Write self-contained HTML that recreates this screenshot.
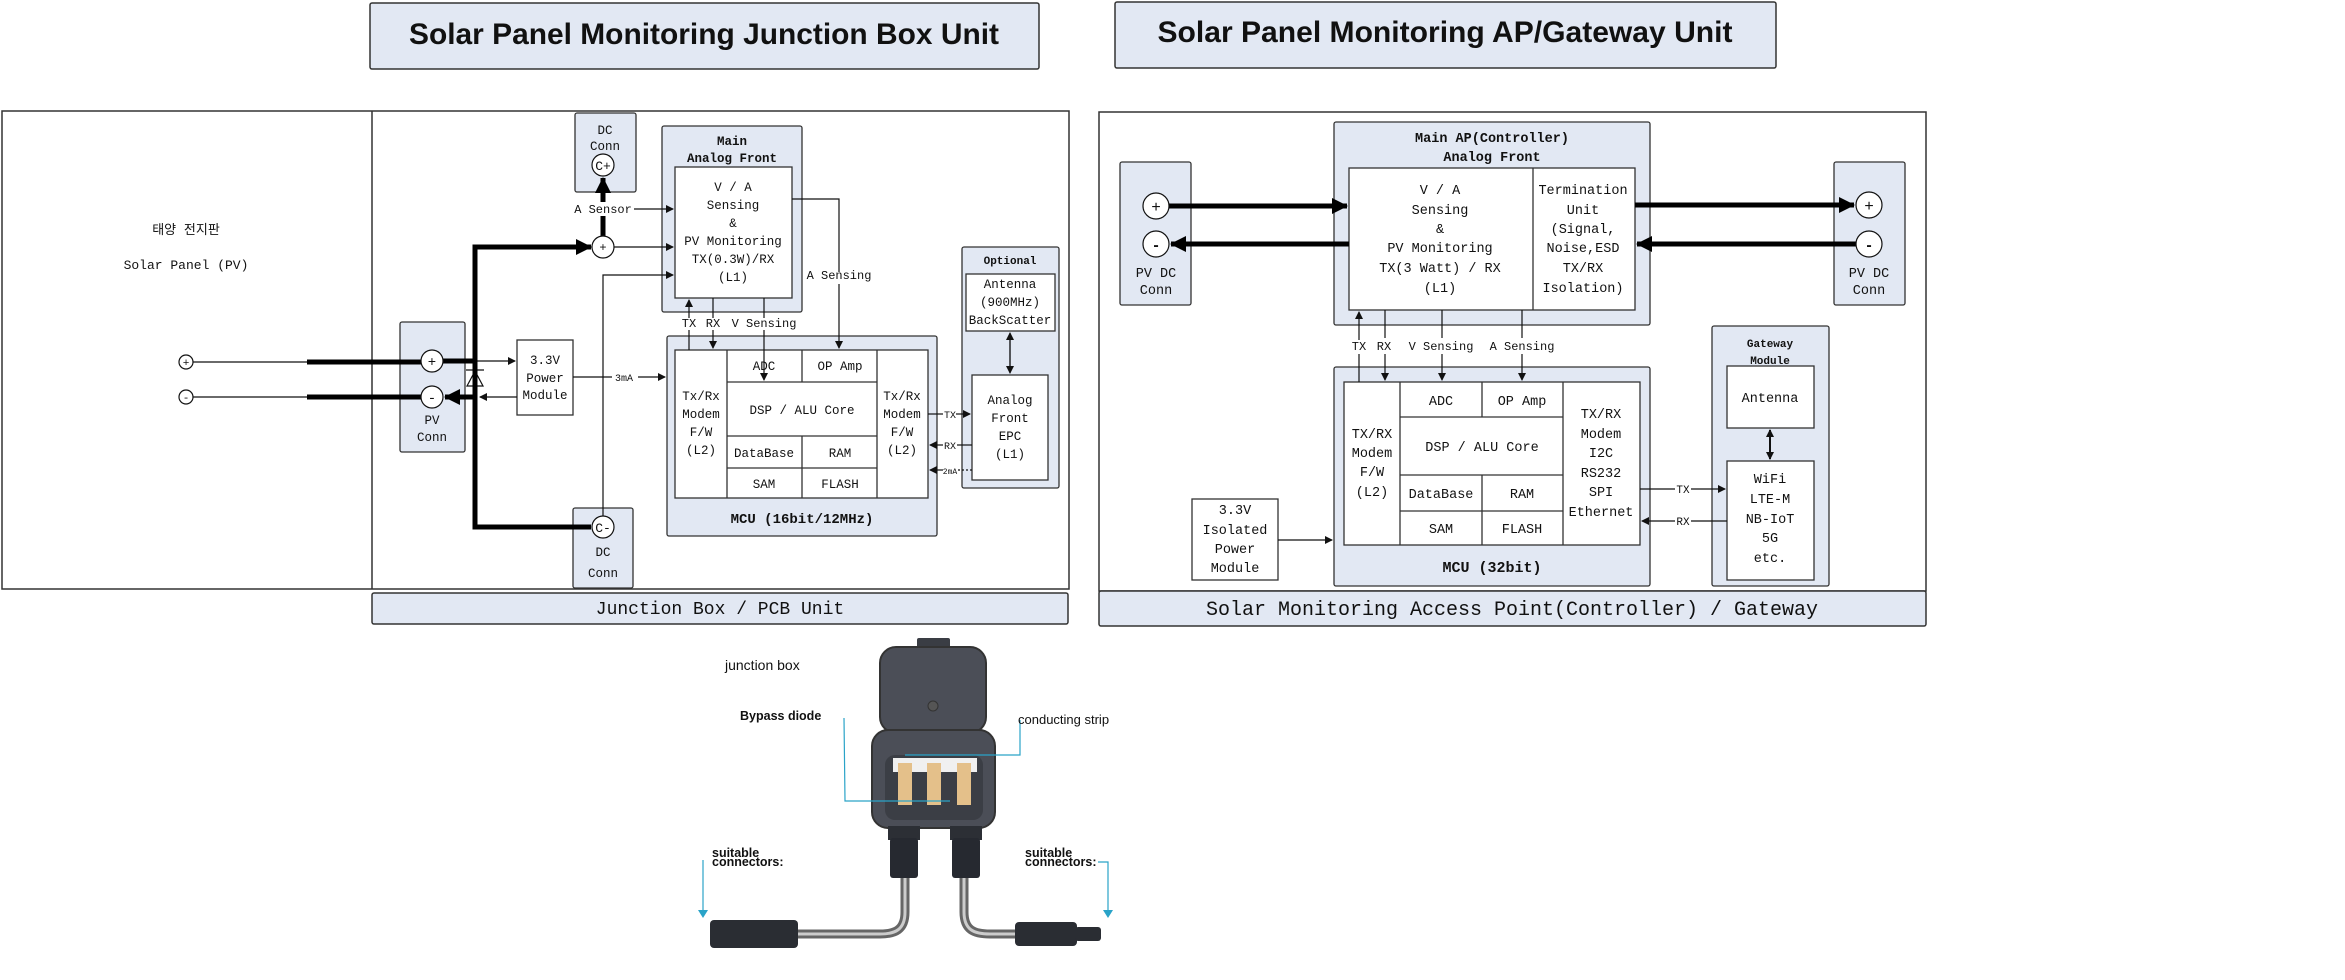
<!DOCTYPE html>
<html><head><meta charset="utf-8"><style>
html,body{margin:0;padding:0;background:#fff;}
svg{display:block;}
.m{font-family:"Liberation Mono","Noto Sans CJK KR",monospace;fill:#111;}
.s{font-family:"Liberation Sans","Noto Sans CJK KR",sans-serif;fill:#111;}
</style></head><body>
<svg width="2345" height="980" viewBox="0 0 2345 980" xmlns="http://www.w3.org/2000/svg">
<defs>
<marker id="a" markerWidth="8" markerHeight="8" refX="7" refY="4" orient="auto" markerUnits="userSpaceOnUse"><path d="M0,0 L8,4 L0,8 z" fill="#111"/></marker>
<marker id="A" markerWidth="16" markerHeight="16" refX="15" refY="8" orient="auto" markerUnits="userSpaceOnUse"><path d="M0,0 L16,8 L0,16 z" fill="#000"/></marker>
</defs>
<g stroke="#333" stroke-width="1.5">
<rect x="370" y="3" width="669" height="66" fill="#e2e8f3" rx="2"/>
<rect x="1115" y="2" width="661" height="66" fill="#e2e8f3" rx="2"/>
<rect x="2" y="111" width="1067" height="478" fill="#fff"/>
<line x1="372" y1="111" x2="372" y2="589"/>
<rect x="372" y="593" width="696" height="31" fill="#e2e8f3" rx="2"/>
<rect x="1099" y="112" width="827" height="479" fill="#fff"/>
<rect x="1099" y="591" width="827" height="35" fill="#e2e8f3" rx="2"/>
</g>
<text class="s" x="704" y="44" font-size="30" font-weight="bold" text-anchor="middle" textLength="590" lengthAdjust="spacingAndGlyphs">Solar Panel Monitoring Junction Box Unit</text>
<text class="s" x="1445" y="42" font-size="30" font-weight="bold" text-anchor="middle" textLength="575" lengthAdjust="spacingAndGlyphs">Solar Panel Monitoring AP/Gateway Unit</text>
<text class="m" x="720" y="614" font-size="18" text-anchor="middle">Junction Box / PCB Unit</text>
<text class="m" x="1512" y="615" font-size="20" text-anchor="middle">Solar Monitoring Access Point(Controller) / Gateway</text>

<text class="m" x="186" y="234" font-size="13" text-anchor="middle">태양 전지판</text>
<text class="m" x="186" y="269" font-size="13" text-anchor="middle">Solar Panel (PV)</text>
<g stroke="#333" stroke-width="1.3">
<rect x="575" y="113" width="61" height="79" fill="#e2e8f3" rx="2"/>
<rect x="662" y="126" width="140" height="186" fill="#e2e8f3" rx="2"/>
<rect x="675" y="167" width="117" height="131" fill="#fff"/>
<rect x="400" y="322" width="65" height="130" fill="#e2e8f3" rx="2"/>
<rect x="573" y="508" width="60" height="80" fill="#e2e8f3" rx="2"/>
<rect x="517" y="340" width="56" height="75" fill="#fff"/>
<rect x="667" y="336" width="270" height="200" fill="#e2e8f3" rx="2"/>
<rect x="675" y="350" width="253" height="148" fill="#fff"/>
<line x1="727" y1="350" x2="727" y2="498"/><line x1="877" y1="350" x2="877" y2="498"/>
<line x1="802" y1="350" x2="802" y2="382"/><line x1="802" y1="436" x2="802" y2="498"/>
<line x1="727" y1="382" x2="877" y2="382"/><line x1="727" y1="436" x2="877" y2="436"/><line x1="727" y1="468" x2="877" y2="468"/>
<rect x="962" y="247" width="97" height="241" fill="#e2e8f3" rx="2"/>
<rect x="966" y="274" width="89" height="57" fill="#fff"/>
<rect x="972" y="375" width="76" height="105" fill="#fff"/>
</g>
<g class="m" font-size="12.5" text-anchor="middle">
<text x="605" y="134">DC</text><text x="605" y="150">Conn</text>
<text x="603" y="556">DC</text><text x="603" y="577">Conn</text>
<text x="732" y="145" font-weight="bold">Main</text><text x="732" y="162" font-weight="bold">Analog Front</text>
<text x="733" y="191">V / A</text><text x="733" y="209">Sensing</text><text x="733" y="227">&amp;</text>
<text x="733" y="245">PV Monitoring</text><text x="733" y="263">TX(0.3W)/RX</text><text x="733" y="281">(L1)</text>
<text x="432" y="424">PV</text><text x="432" y="441">Conn</text>
<text x="545" y="364">3.3V</text><text x="545" y="382">Power</text><text x="545" y="399">Module</text>
<text x="701" y="400">Tx/Rx</text><text x="701" y="418">Modem</text><text x="701" y="436">F/W</text><text x="701" y="454">(L2)</text>
<text x="902" y="400">Tx/Rx</text><text x="902" y="418">Modem</text><text x="902" y="436">F/W</text><text x="902" y="454">(L2)</text>
<text x="764" y="370">ADC</text><text x="840" y="370">OP Amp</text>
<text x="802" y="414">DSP / ALU Core</text>
<text x="764" y="457">DataBase</text><text x="840" y="457">RAM</text>
<text x="764" y="488">SAM</text><text x="840" y="488">FLASH</text>
<text x="802" y="523" font-weight="bold" font-size="14">MCU (16bit/12MHz)</text>
<text x="1010" y="264" font-weight="bold" font-size="11">Optional</text>
<text x="1010" y="288">Antenna</text><text x="1010" y="306">(900MHz)</text><text x="1010" y="324">BackScatter</text>
<text x="1010" y="404">Analog</text><text x="1010" y="422">Front</text><text x="1010" y="440">EPC</text><text x="1010" y="458">(L1)</text>
<text x="603" y="213" font-size="12">A Sensor</text>
<text x="839" y="279" font-size="12">A Sensing</text>
<text x="689" y="327" font-size="12">TX</text><text x="713" y="327" font-size="12">RX</text><text x="764" y="327" font-size="12">V Sensing</text>
<text x="624" y="381" font-size="10">3mA</text>
<text x="950" y="418" font-size="10">TX</text><text x="950" y="449" font-size="10">RX</text><text x="950" y="474" font-size="8">2mA</text>
</g>
<g stroke="#111" fill="none" stroke-width="1.2">
<line x1="193" y1="362" x2="307" y2="362"/><line x1="193" y1="397" x2="307" y2="397"/>
<line x1="475" y1="361" x2="515" y2="361" marker-end="url(#a)"/>
<line x1="517" y1="397" x2="480" y2="397" marker-end="url(#a)"/>
<line x1="573" y1="377" x2="612" y2="377"/><line x1="638" y1="377" x2="665" y2="377" marker-end="url(#a)"/>
<line x1="634" y1="209" x2="673" y2="209" marker-end="url(#a)"/>
<line x1="614" y1="247" x2="673" y2="247" marker-end="url(#a)"/>
<polyline points="603,516 603,275 673,275" marker-end="url(#a)"/>
<line x1="689" y1="350" x2="689" y2="330"/><line x1="689" y1="318" x2="689" y2="300" marker-end="url(#a)"/>
<line x1="713" y1="298" x2="713" y2="318"/><line x1="713" y1="330" x2="713" y2="348" marker-end="url(#a)"/>
<line x1="764" y1="298" x2="764" y2="318"/><line x1="764" y1="330" x2="764" y2="380" marker-end="url(#a)"/>
<polyline points="792,199 839,199 839,272"/><line x1="839" y1="284" x2="839" y2="348" marker-end="url(#a)"/>
<line x1="928" y1="414" x2="943" y2="414"/><line x1="956" y1="414" x2="970" y2="414" marker-end="url(#a)"/>
<line x1="972" y1="445" x2="957" y2="445"/><line x1="943" y1="445" x2="930" y2="445" marker-end="url(#a)"/>
<line x1="943" y1="470" x2="930" y2="470" marker-end="url(#a)"/>
<line x1="958" y1="470" x2="972" y2="470" stroke-dasharray="2,2"/>
<line x1="1010" y1="335" x2="1010" y2="373" marker-end="url(#a)"/>
<line x1="1010" y1="371" x2="1010" y2="333" marker-end="url(#a)"/>
<path d="M467,386 L483,386 L475,371 Z" fill="#fff"/>
<line x1="466" y1="370" x2="484" y2="370"/>
</g>
<g stroke="#000" stroke-width="5" fill="none">
<line x1="307" y1="362" x2="421" y2="362"/><line x1="307" y1="397" x2="421" y2="397"/>
<line x1="443" y1="361" x2="475" y2="361"/>
<polyline points="589,247 475,247 475,527 591,527"/>
<line x1="475" y1="397" x2="445" y2="397" marker-end="url(#A)"/>
<line x1="477" y1="247" x2="591" y2="247" marker-end="url(#A)"/>
<line x1="603" y1="236" x2="603" y2="216"/>
<line x1="603" y1="202" x2="603" y2="178" marker-end="url(#A)"/>
</g>
<g stroke="#111" stroke-width="1.2" fill="#fff">
<circle cx="186" cy="362" r="7"/><circle cx="186" cy="397" r="7"/>
<circle cx="432" cy="361" r="11"/><circle cx="432" cy="397" r="11"/>
<circle cx="603" cy="165" r="11"/><circle cx="603" cy="247" r="11"/><circle cx="603" cy="527" r="11"/>
</g>
<g class="m" text-anchor="middle" font-size="12">
<text x="186" y="366" font-size="11">+</text><text x="186" y="401" font-size="11">-</text>
<text x="432" y="366" font-size="14">+</text><text x="432" y="402" font-size="14">-</text>
<text x="603" y="170" font-size="13">C+</text><text x="603" y="251">+</text><text x="603" y="532" font-size="13">C-</text>
</g>

<g stroke="#333" stroke-width="1.3">
<rect x="1120" y="162" width="71" height="143" fill="#e2e8f3" rx="2"/>
<rect x="1834" y="162" width="71" height="143" fill="#e2e8f3" rx="2"/>
<rect x="1334" y="122" width="316" height="203" fill="#e2e8f3" rx="2"/>
<rect x="1349" y="168" width="286" height="142" fill="#fff"/>
<line x1="1533" y1="168" x2="1533" y2="310"/>
<rect x="1334" y="367" width="316" height="219" fill="#e2e8f3" rx="2"/>
<rect x="1344" y="382" width="296" height="163" fill="#fff"/>
<line x1="1400" y1="382" x2="1400" y2="545"/><line x1="1563" y1="382" x2="1563" y2="545"/>
<line x1="1482" y1="382" x2="1482" y2="417"/><line x1="1482" y1="475" x2="1482" y2="545"/>
<line x1="1400" y1="417" x2="1563" y2="417"/><line x1="1400" y1="475" x2="1563" y2="475"/><line x1="1400" y1="511" x2="1563" y2="511"/>
<rect x="1192" y="499" width="86" height="81" fill="#fff"/>
<rect x="1712" y="326" width="117" height="260" fill="#e2e8f3" rx="2"/>
<rect x="1727" y="366" width="87" height="62" fill="#fff"/>
<rect x="1727" y="461" width="87" height="119" fill="#fff"/>
</g>
<g class="m" font-size="13.5" text-anchor="middle">
<text x="1156" y="277">PV DC</text><text x="1156" y="294">Conn</text>
<text x="1869" y="277">PV DC</text><text x="1869" y="294">Conn</text>
<text x="1492" y="142" font-weight="bold">Main AP(Controller)</text><text x="1492" y="161" font-weight="bold">Analog Front</text>
<text x="1440" y="194">V / A</text><text x="1440" y="214">Sensing</text><text x="1440" y="233">&amp;</text>
<text x="1440" y="252">PV Monitoring</text><text x="1440" y="272">TX(3 Watt) / RX</text><text x="1440" y="292">(L1)</text>
<text x="1583" y="194">Termination</text><text x="1583" y="214">Unit</text><text x="1583" y="233">(Signal,</text>
<text x="1583" y="252">Noise,ESD</text><text x="1583" y="272">TX/RX</text><text x="1583" y="292">Isolation)</text>
<text x="1372" y="438">TX/RX</text><text x="1372" y="457">Modem</text><text x="1372" y="476">F/W</text><text x="1372" y="496">(L2)</text>
<text x="1601" y="418">TX/RX</text><text x="1601" y="438">Modem</text><text x="1601" y="457">I2C</text>
<text x="1601" y="477">RS232</text><text x="1601" y="496">SPI</text><text x="1601" y="516">Ethernet</text>
<text x="1441" y="405">ADC</text><text x="1522" y="405">OP Amp</text>
<text x="1482" y="451">DSP / ALU Core</text>
<text x="1441" y="498">DataBase</text><text x="1522" y="498">RAM</text>
<text x="1441" y="533">SAM</text><text x="1522" y="533">FLASH</text>
<text x="1492" y="572" font-weight="bold" font-size="15">MCU (32bit)</text>
<text x="1235" y="514">3.3V</text><text x="1235" y="534">Isolated</text><text x="1235" y="553">Power</text><text x="1235" y="572">Module</text>
<text x="1770" y="347" font-weight="bold" font-size="11">Gateway</text><text x="1770" y="364" font-weight="bold" font-size="11">Module</text>
<text x="1770" y="402">Antenna</text>
<text x="1770" y="483">WiFi</text><text x="1770" y="503">LTE-M</text><text x="1770" y="523">NB-IoT</text><text x="1770" y="542">5G</text><text x="1770" y="562">etc.</text>
<text x="1359" y="350" font-size="12">TX</text><text x="1384" y="350" font-size="12">RX</text>
<text x="1441" y="350" font-size="12">V Sensing</text><text x="1522" y="350" font-size="12">A Sensing</text>
<text x="1683" y="493" font-size="11">TX</text><text x="1683" y="525" font-size="11">RX</text>
</g>
<g stroke="#111" fill="none" stroke-width="1.2">
<line x1="1359" y1="382" x2="1359" y2="354"/><line x1="1359" y1="340" x2="1359" y2="312" marker-end="url(#a)"/>
<line x1="1385" y1="310" x2="1385" y2="338"/><line x1="1385" y1="354" x2="1385" y2="380" marker-end="url(#a)"/>
<line x1="1442" y1="310" x2="1442" y2="338"/><line x1="1442" y1="354" x2="1442" y2="380" marker-end="url(#a)"/>
<line x1="1522" y1="310" x2="1522" y2="338"/><line x1="1522" y1="354" x2="1522" y2="380" marker-end="url(#a)"/>
<line x1="1278" y1="540" x2="1332" y2="540" marker-end="url(#a)"/>
<line x1="1640" y1="489" x2="1675" y2="489"/><line x1="1691" y1="489" x2="1725" y2="489" marker-end="url(#a)"/>
<line x1="1727" y1="521" x2="1691" y2="521"/><line x1="1675" y1="521" x2="1642" y2="521" marker-end="url(#a)"/>
<line x1="1770" y1="432" x2="1770" y2="459" marker-end="url(#a)" stroke-width="2"/>
<line x1="1770" y1="457" x2="1770" y2="430" marker-end="url(#a)" stroke-width="2"/>
</g>
<g stroke="#000" stroke-width="5" fill="none">
<line x1="1169" y1="206" x2="1347" y2="206" marker-end="url(#A)"/>
<line x1="1349" y1="244" x2="1171" y2="244" marker-end="url(#A)"/>
<line x1="1635" y1="205" x2="1854" y2="205" marker-end="url(#A)"/>
<line x1="1856" y1="244" x2="1637" y2="244" marker-end="url(#A)"/>
</g>
<g stroke="#111" stroke-width="1.2" fill="#fff">
<circle cx="1156" cy="206" r="13"/><circle cx="1156" cy="244" r="13"/>
<circle cx="1869" cy="205" r="13"/><circle cx="1869" cy="244" r="13"/>
</g>
<g class="s" text-anchor="middle" font-size="16">
<text x="1156" y="212">+</text><text x="1156" y="250" font-weight="bold">-</text>
<text x="1869" y="211">+</text><text x="1869" y="250" font-weight="bold">-</text>
</g>

<!-- JUNCTION BOX PHOTO -->
<g>
<path d="M905,875 L905,912 C905,930 895,934 880,934 L795,934 M964,875 L964,912 C964,930 974,934 990,934 L1018,934" stroke="#666" stroke-width="9" fill="none"/>
<path d="M905,875 L905,912 C905,930 895,934 880,934 L795,934 M964,875 L964,912 C964,930 974,934 990,934 L1018,934" stroke="#ccc" stroke-width="3" fill="none"/>
<rect x="917" y="638" width="33" height="12" rx="2" fill="#3a3d44"/>
<rect x="880" y="647" width="106" height="86" rx="16" fill="#4b4e57" stroke="#333" stroke-width="2"/>
<circle cx="933" cy="706" r="5" fill="#555" stroke="#333"/>
<rect x="872" y="730" width="123" height="98" rx="16" fill="#4b4e57" stroke="#333" stroke-width="2"/>
<rect x="885" y="755" width="98" height="65" rx="10" fill="#3b3e45"/>
<rect x="893" y="758" width="84" height="14" fill="#f0f0f0"/>
<rect x="898" y="763" width="14" height="42" fill="#e4c08a"/>
<rect x="927" y="763" width="14" height="42" fill="#e4c08a"/>
<rect x="957" y="763" width="14" height="42" fill="#e4c08a"/>
<path d="M844,718 L845,801 L950,801 M1020,720 L1020,755 L905,755" stroke="#2aa3c8" stroke-width="1.2" fill="none"/>
<rect x="888" y="826" width="32" height="14" fill="#2c2f35"/>
<rect x="950" y="826" width="32" height="14" fill="#2c2f35"/>
<rect x="890" y="838" width="28" height="40" rx="3" fill="#262930"/>
<rect x="952" y="838" width="28" height="40" rx="3" fill="#262930"/>
<rect x="710" y="920" width="88" height="28" rx="4" fill="#2a2d33"/>
<rect x="1015" y="922" width="62" height="24" rx="4" fill="#2a2d33"/>
<rect x="1075" y="927" width="26" height="14" rx="3" fill="#2a2d33"/>
<path d="M703,860 L703,914" stroke="#2aa3c8" stroke-width="1.2" fill="none"/>
<path d="M698,910 L708,910 L703,918 Z" fill="#2aa3c8"/>
<path d="M1098,862 L1108,862 L1108,912" stroke="#2aa3c8" stroke-width="1.2" fill="none"/>
<path d="M1103,910 L1113,910 L1108,918 Z" fill="#2aa3c8"/>
</g>
<g class="s" fill="#333">
<text x="725" y="670" font-size="14">junction box</text>
<text x="740" y="720" font-size="12.5" font-weight="bold">Bypass diode</text>
<text x="1018" y="724" font-size="13">conducting strip</text>
<text x="712" y="857" font-size="12.5" font-weight="bold">suitable</text>
<text x="712" y="866" font-size="12.5" font-weight="bold">connectors:</text>
<text x="1025" y="857" font-size="12.5" font-weight="bold">suitable</text>
<text x="1025" y="866" font-size="12.5" font-weight="bold">connectors:</text>
</g>
</svg>
</body></html>
